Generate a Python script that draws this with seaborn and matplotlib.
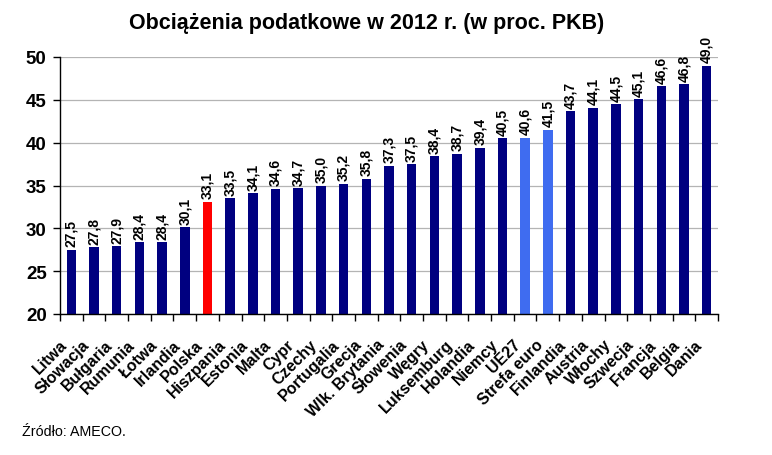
import matplotlib
matplotlib.use("Agg")
import matplotlib.pyplot as plt
import matplotlib.transforms as mtransforms
import seaborn as sns
import pandas as pd

countries = ["Litwa", "Słowacja", "Bułgaria", "Rumunia", "Łotwa", "Irlandia", "Polska",
             "Hiszpania", "Estonia", "Malta", "Cypr", "Czechy", "Portugalia", "Grecja",
             "Wlk. Brytania", "Słowenia", "Węgry", "Luksemburg", "Holandia", "Niemcy",
             "UE27", "Strefa euro", "Finlandia", "Austria", "Włochy", "Szwecja",
             "Francja", "Belgia", "Dania"]
values = [27.5, 27.8, 27.9, 28.4, 28.4, 30.1, 33.1, 33.5, 34.1, 34.6, 34.7, 35.0, 35.2,
          35.8, 37.3, 37.5, 38.4, 38.7, 39.4, 40.5, 40.6, 41.5, 43.7, 44.1, 44.5, 45.1,
          46.6, 46.8, 49.0]
yticks = [20, 25, 30, 35, 40, 45, 50]

NAVY = "#000080"
RED = "#FF0000"
LIGHT = "#3F6CF0"
colors = {c: NAVY for c in countries}
colors["Polska"] = RED
colors["UE27"] = LIGHT
colors["Strefa euro"] = LIGHT

df = pd.DataFrame({"country": countries, "value": values})

sns.set_theme(style="white")
plt.rcParams["font.family"] = ["Liberation Sans", "DejaVu Sans"]
plt.rcParams["text.color"] = "black"
plt.rcParams["xtick.color"] = "black"
plt.rcParams["ytick.color"] = "black"

fig = plt.figure(figsize=(7.72, 4.56), dpi=100)
ax = fig.add_axes([60/772, 1-315/456, 658/772, 257/456])

sns.barplot(data=df, x="country", y="value", hue="country", palette=colors,
            legend=False, width=0.42, ax=ax, edgecolor="none", saturation=1)

ax.set_ylim(20, 50)
ax.set_yticks(yticks)
ax.set_xlim(-0.5, len(countries) - 0.5)
ax.yaxis.grid(True, color="#b4b4b4", linewidth=0.9)
ax.set_axisbelow(True)
for s in ["top", "right"]:
    ax.spines[s].set_visible(False)
for s in ["left", "bottom"]:
    ax.spines[s].set_color("black")
    ax.spines[s].set_linewidth(1.0)

ax.set_xlabel("")
ax.set_ylabel("")
ax.set_xticks([i + 0.5 for i in range(-1, len(countries))], minor=True)
ax.tick_params(axis="x", which="minor", length=5, color="black", width=1, direction="out", bottom=True)
ax.tick_params(axis="x", which="major", length=0, pad=4)
ax.tick_params(axis="y", which="major", length=5, color="black", width=1, direction="out", left=True, pad=4.6)
ax.set_xticks(range(len(countries)))
ax.set_xticklabels(countries, rotation=45, ha="right", rotation_mode="anchor",
                   fontsize=11.5, fontweight="bold")
offset = mtransforms.ScaledTranslation(-12/100, -17/100, fig.dpi_scale_trans)
for lab in ax.get_xticklabels():
    lab.set_transform(lab.get_transform() + offset)
for lab in ax.get_yticklabels():
    lab.set_fontsize(13.5)
    lab.set_fontweight("bold")

for i, v in enumerate(values):
    ax.text(i, v + 0.4, f"{v:.1f}".replace(".", ","), rotation=90, ha="center",
            va="bottom", fontsize=10, fontweight="bold", color="black")

fig.text(0.475, 1 - 23/456, "Obciążenia podatkowe w 2012 r. (w proc. PKB)", ha="center",
         va="center", fontsize=15.5, fontweight="bold")
fig.text(22/772, 1 - 432/456, "Źródło: AMECO.", ha="left", va="center", fontsize=10.3)

fig.savefig("out.png", dpi=100, facecolor="white")
